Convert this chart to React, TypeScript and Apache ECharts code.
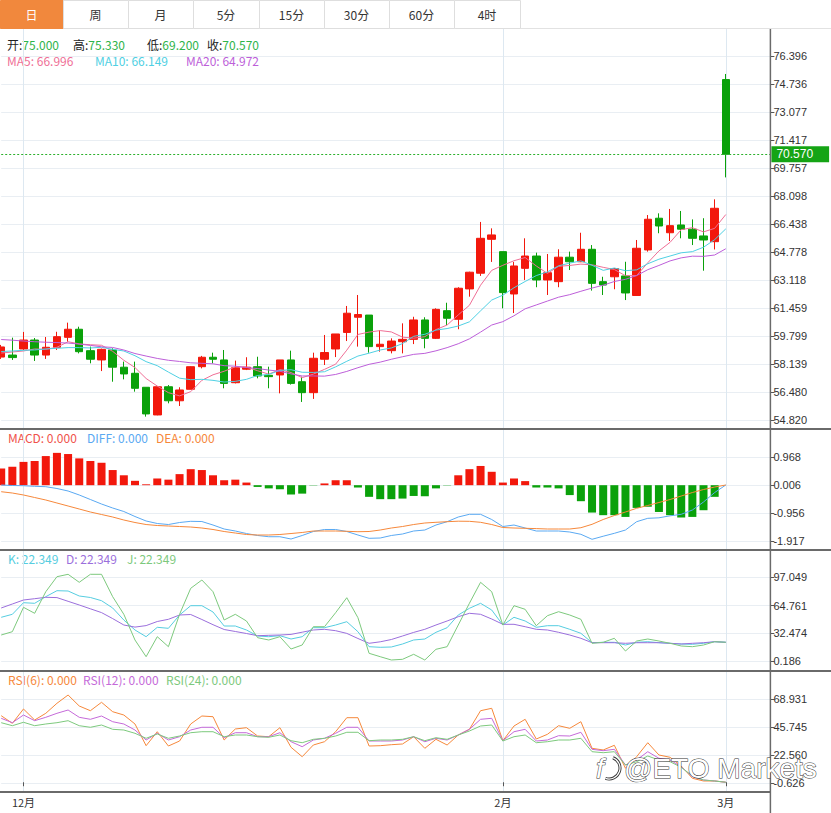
import React, { useEffect, useRef } from 'react';
import * as echarts from 'echarts';

// ---------- DATA ----------
const dates = [
  '2022-11-29','2022-11-30',
  '2022-12-01','2022-12-02','2022-12-05','2022-12-06','2022-12-07','2022-12-08','2022-12-09',
  '2022-12-12','2022-12-13','2022-12-14','2022-12-15','2022-12-16','2022-12-19','2022-12-20',
  '2022-12-21','2022-12-22','2022-12-23','2022-12-27','2022-12-28','2022-12-29','2022-12-30',
  '2023-01-02','2023-01-03','2023-01-04','2023-01-05','2023-01-06','2023-01-09','2023-01-10',
  '2023-01-11','2023-01-12','2023-01-13','2023-01-16','2023-01-17','2023-01-18','2023-01-19',
  '2023-01-20','2023-01-23','2023-01-24','2023-01-25','2023-01-26','2023-01-27','2023-01-30','2023-01-31',
  '2023-02-01','2023-02-02','2023-02-03','2023-02-06','2023-02-07','2023-02-08','2023-02-09',
  '2023-02-10','2023-02-13','2023-02-14','2023-02-15','2023-02-16','2023-02-17','2023-02-20',
  '2023-02-21','2023-02-22','2023-02-23','2023-02-24','2023-02-27','2023-02-28',
  '2023-03-01',
  '2023-03-02','2023-03-03','2023-03-06','2023-03-07',
];

const monthLabels: Record<string, string> = {
  '2022-12-01': '12月',
  '2023-02-01': '2月',
  '2023-03-01': '3月',
};

// [open, close, low, high]
const candles = [
  [58.55, 59.15, 58.44, 59.27], [58.67, 58.52, 58.38, 59.70], [59.03, 59.56, 58.97, 60.04],
  [59.56, 58.67, 58.32, 59.68], [58.67, 59.13, 58.44, 59.74], [59.13, 59.76, 58.97, 60.05],
  [59.72, 60.20, 59.46, 60.59], [60.20, 58.87, 58.77, 60.35], [58.93, 58.42, 58.18, 59.17],
  [58.38, 59.01, 57.72, 59.05], [58.97, 57.95, 57.09, 59.07], [57.95, 57.55, 57.23, 58.28],
  [57.59, 56.70, 56.50, 58.28], [56.76, 55.18, 55.02, 56.76], [55.12, 56.79, 55.10, 56.79],
  [56.79, 55.96, 55.81, 56.89], [55.96, 56.60, 55.65, 56.76], [56.64, 57.98, 56.64, 58.00],
  [57.98, 58.54, 57.88, 58.62], [58.54, 58.42, 58.18, 58.81], [58.38, 56.99, 56.70, 58.97],
  [57.03, 57.92, 56.99, 58.34], [57.83, 57.95, 57.78, 58.54], [57.98, 57.43, 57.29, 58.57],
  [57.47, 57.39, 56.70, 57.98], [57.49, 58.38, 56.40, 58.38], [58.38, 56.99, 56.92, 58.93],
  [57.09, 56.44, 55.89, 57.39], [56.44, 58.48, 56.07, 58.81], [58.42, 58.82, 58.08, 59.86],
  [59.03, 59.92, 58.55, 59.92], [60.01, 61.15, 59.50, 61.58], [60.91, 61.07, 59.17, 62.23],
  [61.04, 59.17, 58.81, 61.04], [59.17, 59.31, 58.87, 60.15], [58.93, 59.50, 58.77, 59.66],
  [59.46, 59.60, 58.77, 60.55], [59.60, 60.75, 59.32, 60.94], [60.75, 59.66, 59.07, 60.91],
  [59.66, 61.38, 59.62, 61.44], [61.30, 60.85, 60.45, 61.77], [60.79, 62.63, 60.20, 62.69],
  [62.59, 63.58, 62.13, 63.61], [63.52, 65.59, 63.36, 66.56], [65.53, 65.79, 64.19, 66.18],
  [64.80, 62.37, 61.44, 64.80], [62.29, 63.95, 61.16, 64.19], [63.81, 64.54, 63.12, 65.59],
  [64.54, 63.12, 62.69, 64.74], [63.12, 63.55, 62.23, 64.66], [63.02, 64.47, 62.69, 64.94],
  [64.47, 64.20, 63.71, 64.80], [64.20, 64.94, 64.18, 65.92], [64.94, 62.92, 62.49, 65.19],
  [63.02, 62.82, 62.23, 63.31], [63.31, 63.80, 62.57, 63.81], [63.36, 62.35, 61.93, 64.20],
  [62.20, 65.00, 62.17, 65.49], [64.90, 66.72, 64.80, 66.97], [66.78, 66.32, 65.89, 67.07],
  [65.92, 66.34, 65.43, 67.33], [66.38, 66.13, 65.59, 67.21], [66.13, 65.59, 65.19, 66.71],
  [65.73, 65.49, 63.67, 66.78], [65.39, 67.37, 64.93, 67.90], [75.00, 70.57, 69.20, 75.33],
];

const ma5 = [58.79, 58.85, 58.91, 59.03, 59.01, 59.13, 59.46, 59.33, 59.28, 59.25,
  58.89, 58.36, 57.93, 57.28, 56.83, 56.44, 56.25, 56.50, 57.17, 57.50,
  57.71, 57.97, 57.96, 57.74, 57.54, 57.81, 57.63, 57.33, 57.54, 57.82,
  58.13, 58.96, 59.89, 60.03, 60.12, 60.04, 59.73, 59.67, 59.76, 60.18,
  60.45, 61.05, 61.62, 62.81, 63.69, 63.99, 64.26, 64.45, 63.95, 63.51,
  63.93, 63.98, 64.06, 64.02, 63.87, 63.74, 63.37, 63.38, 64.14, 64.84,
  65.35, 66.10, 66.22, 65.97, 66.18, 67.00];
const ma10 = [58.88, 58.91, 58.95, 58.97, 59.03, 59.07, 59.11, 59.11, 59.09, 59.13,
  59.01, 58.91, 58.63, 58.28, 58.04, 57.66, 57.30, 57.21, 57.23, 57.17,
  57.07, 57.11, 57.23, 57.46, 57.52, 57.76, 57.80, 57.65, 57.64, 57.68,
  57.97, 58.30, 58.61, 58.78, 58.97, 59.09, 59.35, 59.78, 59.90, 60.15,
  60.24, 60.39, 60.64, 61.29, 61.93, 62.22, 62.66, 63.03, 63.38, 63.60,
  63.96, 64.12, 64.25, 63.99, 63.69, 63.83, 63.67, 63.72, 64.08, 64.35,
  64.54, 64.73, 64.80, 65.06, 65.51, 66.15];
const ma20 = [59.59, 59.55, 59.50, 59.46, 59.43, 59.41, 59.38, 59.32, 59.24, 59.16,
  59.12, 58.97, 58.76, 58.61, 58.47, 58.36, 58.29, 58.21, 58.18, 58.15,
  58.04, 58.01, 57.93, 57.87, 57.78, 57.71, 57.55, 57.43, 57.43, 57.42,
  57.52, 57.70, 57.92, 58.12, 58.25, 58.42, 58.57, 58.71, 58.77, 58.92,
  59.11, 59.34, 59.63, 60.03, 60.45, 60.65, 61.00, 61.41, 61.64, 61.87,
  62.10, 62.25, 62.45, 62.64, 62.81, 63.03, 63.16, 63.38, 63.73, 63.98,
  64.25, 64.43, 64.53, 64.52, 64.60, 64.97];

const macdHist = [0.57, 0.63, 0.80, 0.83, 1.00, 1.11, 1.07, 0.92, 0.83, 0.77,
  0.52, 0.34, 0.15, 0.03, 0.23, 0.19, 0.38, 0.55, 0.52, 0.34,
  0.17, 0.19, 0.09, -0.06, -0.11, -0.14, -0.32, -0.29, -0.01, 0.06,
  0.17, 0.17, -0.08, -0.40, -0.48, -0.48, -0.46, -0.37, -0.38, -0.11,
  -0.01, 0.34, 0.55, 0.66, 0.46, 0.09, 0.23, 0.14, -0.08, -0.08,
  -0.11, -0.34, -0.55, -0.94, -1.03, -1.03, -1.09, -0.78, -0.74, -0.92,
  -1.03, -1.11, -1.09, -0.86, -0.40, 0];
const diff = [0.006, -0.011, -0.018, -0.039, -0.052, -0.114, -0.200, -0.337, -0.492, -0.647,
  -0.784, -0.904, -1.076, -1.230, -1.316, -1.351, -1.282, -1.241, -1.248, -1.368,
  -1.505, -1.574, -1.660, -1.728, -1.770, -1.770, -1.849, -1.728, -1.591, -1.522,
  -1.522, -1.591, -1.711, -1.825, -1.814, -1.728, -1.677, -1.574, -1.540, -1.368,
  -1.254, -1.093, -1.000, -1.000, -1.179, -1.419, -1.368, -1.471, -1.574, -1.574,
  -1.574, -1.608, -1.687, -1.859, -1.753, -1.653, -1.540, -1.254, -1.138, -1.121,
  -1.052, -1.000, -0.853, -0.578, -0.252, 0.006];
const dea = [-0.224, -0.269, -0.337, -0.423, -0.509, -0.612, -0.715, -0.818, -0.921, -1.007,
  -1.093, -1.196, -1.282, -1.351, -1.385, -1.402, -1.419, -1.437, -1.471, -1.522,
  -1.591, -1.643, -1.694, -1.711, -1.711, -1.694, -1.660, -1.625, -1.574, -1.574,
  -1.574, -1.584, -1.598, -1.591, -1.540, -1.471, -1.419, -1.351, -1.299, -1.275,
  -1.254, -1.237, -1.241, -1.275, -1.351, -1.454, -1.471, -1.481, -1.491, -1.505,
  -1.505, -1.505, -1.461, -1.344, -1.179, -1.042, -0.921, -0.794, -0.698, -0.595,
  -0.492, -0.372, -0.252, -0.149, -0.063, 0.006];

const kLine = [51.15, 54.61, 67.99, 67.30, 74.91, 81.83, 81.48, 75.72, 73.99, 70.30,
  61.88, 48.04, 36.51, 28.78, 39.62, 38.47, 53.80, 64.53, 64.53, 57.26,
  41.12, 41.12, 36.51, 29.59, 28.78, 29.94, 26.13, 28.78, 39.16, 39.16,
  42.27, 46.08, 34.55, 17.25, 16.56, 16.91, 20.36, 24.98, 26.13, 33.86,
  39.16, 53.80, 61.53, 67.30, 59.57, 42.27, 51.15, 46.89, 39.62, 41.47,
  41.47, 37.32, 32.70, 21.86, 22.32, 22.32, 19.21, 22.32, 23.02, 21.86,
  21.17, 20.36, 20.02, 21.17, 23.02, 22.349];
const dLine = [61.88, 66.49, 71.10, 72.60, 74.22, 73.87, 69.60, 65.34, 60.95, 56.57,
  49.65, 42.27, 39.85, 41.58, 46.31, 48.85, 53.80, 54.38, 48.62, 42.62,
  37.08, 34.78, 32.47, 29.94, 30.40, 30.74, 31.43, 33.97, 36.51, 37.32,
  35.70, 32.59, 26.71, 21.17, 22.90, 25.55, 29.59, 33.74, 37.32, 42.27,
  46.89, 51.85, 55.76, 54.61, 49.19, 43.08, 43.08, 40.31, 37.32, 36.51,
  33.86, 30.74, 26.94, 21.86, 21.86, 21.86, 21.17, 21.86, 21.86, 21.86,
  21.17, 20.36, 21.17, 21.86, 23.02, 22.349];
const jLine = [30.74, 34.55, 62.68, 55.76, 80.67, 97.97, 100.74, 91.51, 100.74, 100.74,
  74.91, 54.61, 24.98, 5.72, 28.78, 17.25, 54.61, 84.59, 94.16, 80.67,
  48.04, 54.61, 46.89, 27.63, 24.98, 28.78, 14.60, 19.21, 40.31, 40.31,
  56.46, 73.75, 50.69, 9.64, 5.72, 1.92, 2.72, 8.49, 1.92, 14.25,
  17.25, 42.27, 67.30, 91.51, 80.67, 42.27, 64.53, 60.38, 41.47, 53.00,
  57.61, 53.80, 48.85, 21.17, 22.32, 26.94, 12.29, 23.82, 26.13, 23.82,
  21.17, 18.06, 17.25, 19.21, 23.02, 22.349];

const rsi6 = [55.10, 48.81, 60.65, 51.54, 57.09, 65.37, 72.24, 63.13, 59.24, 66.20,
  58.41, 55.68, 48.23, 30.26, 41.85, 30.01, 34.15, 48.23, 54.85, 54.28,
  34.98, 44.09, 45.17, 38.29, 37.71, 45.17, 28.94, 21.15, 30.84, 33.57,
  41.85, 53.45, 53.45, 30.01, 30.26, 31.09, 31.67, 37.71, 28.11, 35.56,
  30.84, 39.12, 43.84, 59.24, 61.23, 34.40, 46.57, 52.12, 35.81, 39.70,
  46.82, 44.67, 50.13, 28.11, 26.70, 30.59, 11.55, 21.15, 32.74, 22.56,
  20.66, 13.45, 3.27, 1.03, 1.03, 0];
const rsi12 = [52.95, 49.31, 55.68, 50.96, 53.78, 57.09, 59.82, 53.78, 52.12, 54.85,
  50.13, 48.23, 43.26, 34.98, 40.53, 34.98, 37.71, 43.26, 45.50, 45.50,
  36.88, 41.02, 41.02, 37.71, 37.71, 41.02, 33.57, 29.43, 34.98, 36.39,
  40.53, 45.50, 45.50, 34.15, 34.15, 34.15, 34.98, 37.71, 33.57, 36.39,
  34.98, 39.12, 43.84, 52.12, 52.95, 34.40, 41.85, 43.84, 34.15, 34.98,
  38.54, 38.29, 41.36, 27.28, 26.12, 27.28, 14.28, 18.42, 25.29, 19.83,
  18.42, 12.87, 4.59, 1.86, 1.03, 0];
const rsi24 = [49.31, 46.82, 49.64, 46.82, 48.23, 49.31, 50.96, 46.82, 45.50, 47.40,
  43.84, 43.26, 40.53, 36.39, 39.95, 36.39, 38.29, 41.02, 41.85, 41.85,
  37.71, 39.12, 39.12, 37.71, 37.22, 39.12, 34.40, 32.74, 35.56, 36.39,
  38.29, 41.36, 41.36, 34.40, 34.98, 34.98, 35.56, 37.71, 34.40, 36.88,
  35.56, 39.12, 42.43, 46.57, 47.40, 34.15, 37.71, 39.12, 32.74, 33.57,
  34.98, 34.98, 36.39, 25.29, 24.46, 25.29, 14.28, 17.01, 21.73, 18.42,
  17.01, 12.37, 5.17, 1.86, 1.03, 0];

const priceTicks = [54.820, 56.480, 58.139, 59.799, 61.459, 63.118, 64.778, 66.438, 68.098, 69.757, 71.417, 73.077, 74.736, 76.396];
const macdTicks = [-1.917, -0.956, 0.006, 0.968];
const kdjTicks = [0.186, 32.474, 64.761, 97.049];
const rsiTicks = [-0.626, 22.560, 45.745, 68.931];

const tabs = ['日', '周', '月', '5分', '15分', '30分', '60分', '4时'];

const maLegend = [['MA5', '66.996'], ['MA10', '66.149'], ['MA20', '64.972']];
const macdLegend = [['MACD', '0.000'], ['DIFF', '0.000'], ['DEA', '0.000']];
const kdjLegend = [['K', '22.349'], ['D', '22.349'], ['J', '22.349']];
const rsiLegend = [['RSI(6)', '0.000'], ['RSI(12)', '0.000'], ['RSI(24)', '0.000']];

// ---------- STYLE ----------
const RED = '#f2180c';
const GREEN = '#0aa10a';
const C_MA5 = '#ef6f96', C_MA10 = '#4fd0e3', C_MA20 = '#bd5fd9';
const C_DIFF = '#5aa9f2', C_DEA = '#f6883b';
const C_K = '#56cde0', C_D = '#9b6fdc', C_J = '#7dc97d';
const C_R6 = '#f6883b', C_R12 = '#c56ad9', C_R24 = '#7dc97d';
const CJK = '"Noto Sans CJK SC", "Noto Sans", sans-serif';
const NUM = '"Liberation Sans", Arial, sans-serif';

const GRID_LEFT = 1.2;
const GRID_RIGHT = 60.6;
const AXIS_X = 831 - GRID_RIGHT;
const grids = [
  { top: 29, height: 400 },
  { top: 429, height: 121 },
  { top: 550, height: 121 },
  { top: 671, height: 121 },
];
const yRanges = [
  [54.2865, 77.9964],
  [-2.2261, 1.9297],
  [-10.769, 128.76],
  [-8.079, 92.117],
];
const tickSets = [priceTicks, macdTicks, kdjTicks, rsiTicks];

const isMonth = (_i: number, v: string) => !!monthLabels[v];

function lineSeries(data: number[], color: string, grid: number) {
  return {
    type: 'line', xAxisIndex: grid, yAxisIndex: grid, data,
    symbol: 'none', showSymbol: false, smooth: false, silent: true,
    lineStyle: { width: 1, color }, itemStyle: { color },
  };
}

function legendText(x: number, y: number, text: string, color: string) {
  return {
    type: 'text', x, y, silent: true,
    style: { text, fill: color, font: `12px ${CJK}`, textVerticalAlign: 'middle', verticalAlign: 'middle' },
  };
}

function buildGraphics() {
  const g: any[] = [];
  // tab bar
  const edges = [0, 63, 128, 193, 259, 324, 389, 454, 520];
  g.push({ type: 'line', shape: { x1: 0, y1: 28.5, x2: 831, y2: 28.5 }, style: { stroke: '#e2e2e2', lineWidth: 1 } });
  tabs.forEach((t, k) => {
    g.push({
      type: 'rect',
      shape: { x: edges[k] + 0.5, y: 0.5, width: edges[k + 1] - edges[k], height: 28 },
      style: { fill: k === 0 ? '#f1883d' : '#ffffff', stroke: k === 0 ? '#f1883d' : '#dedede', lineWidth: 1 },
    });
    g.push({
      type: 'text', x: (edges[k] + edges[k + 1]) / 2, y: 14.5,
      style: {
        text: t, fill: k === 0 ? '#ffffff' : '#333333', font: `12px ${CJK}`,
        textAlign: 'center', align: 'center', textVerticalAlign: 'middle', verticalAlign: 'middle',
      },
    });
  });

  // OHLC legend
  const last = candles[candles.length - 1];
  const ohlc = [['开:', last[0]], ['高:', last[3]], ['低:', last[2]], ['收:', last[1]]] as [string, number][];
  const ohlcX = [7, 73, 147, 207];
  ohlc.forEach(([lab, v], k) => {
    g.push({
      type: 'text', x: ohlcX[k], y: 44,
      style: {
        text: `{l|${lab}}{v|${v.toFixed(3)}}`, font: `12px ${CJK}`,
        textVerticalAlign: 'middle', verticalAlign: 'middle',
        rich: { l: { fill: '#222', font: `12px ${CJK}` }, v: { fill: '#2fb44a', font: `12px ${CJK}` } },
      },
    });
  });
  const maX = [7, 95, 186];
  const maC = [C_MA5, C_MA10, C_MA20];
  maLegend.forEach(([n, v], k) => g.push(legendText(maX[k], 60, `${n}: ${v}`, maC[k])));

  const macdX = [8, 87, 156];
  const macdC = ['#f0524a', C_DIFF, C_DEA];
  macdLegend.forEach(([n, v], k) => g.push(legendText(macdX[k], 437, `${n}: ${v}`, macdC[k])));

  const kdjX = [8, 66, 127];
  const kdjC = [C_K, C_D, C_J];
  kdjLegend.forEach(([n, v], k) => g.push(legendText(kdjX[k], 558, `${n}: ${v}`, kdjC[k])));

  const rsiX = [8, 83, 166];
  const rsiC = [C_R6, C_R12, C_R24];
  rsiLegend.forEach(([n, v], k) => g.push(legendText(rsiX[k], 679, `${n}: ${v}`, rsiC[k])));

  // panel separators
  [429, 550, 671].forEach((y) => {
    g.push({ type: 'line', z: 50, shape: { x1: 0, y1: y, x2: 831, y2: y }, style: { stroke: '#6a6a6a', lineWidth: 2 } });
  });
  g.push({ type: 'line', z: 50, shape: { x1: 0, y1: 792, x2: AXIS_X, y2: 792 }, style: { stroke: '#6a6a6a', lineWidth: 2 } });
  g.push({ type: 'line', z: 50, shape: { x1: AXIS_X, y1: 29, x2: AXIS_X, y2: 813 }, style: { stroke: '#6a6a6a', lineWidth: 1.5 } });

  // watermark
  g.push({
    type: 'arc', z: 60, silent: true,
    shape: { cx: 609, cy: 768, r: 11, startAngle: -1.2, endAngle: 1.9 },
    style: { stroke: '#333', lineWidth: 3, fill: null },
  });
  g.push({
    type: 'arc', z: 61, silent: true,
    shape: { cx: 609, cy: 768, r: 11, startAngle: -1.2, endAngle: 1.9 },
    style: { stroke: '#fff', lineWidth: 1.2, fill: null },
  });
  g.push({
    type: 'text', x: 596, y: 768, z: 61, silent: true,
    style: {
      text: 'f', fill: '#ffffff', stroke: '#333333', lineWidth: 1,
      font: `italic 28px ${NUM}`, textVerticalAlign: 'middle', verticalAlign: 'middle',
    },
  });
  g.push({
    type: 'text', x: 624, y: 768, z: 61, silent: true,
    style: {
      text: '@ETO Markets', fill: '#ffffff', stroke: '#333333', lineWidth: 1,
      font: `28px ${NUM}`, textVerticalAlign: 'middle', verticalAlign: 'middle',
    },
  });
  return g;
}

function buildOption() {
  const lastClose = candles[candles.length - 1][1];
  return {
    animation: false,
    backgroundColor: '#ffffff',
    grid: grids.map((g) => ({ left: GRID_LEFT, right: GRID_RIGHT, top: g.top, height: g.height, containLabel: false })),
    xAxis: grids.map((_, k) => ({
      type: 'category', gridIndex: k, data: dates, boundaryGap: false,
      axisLine: { show: false },
      axisTick: { show: k === 3, interval: isMonth, length: 4, lineStyle: { color: '#555' } },
      axisLabel: {
        show: k === 3, interval: isMonth, formatter: (v: string) => monthLabels[v] || '',
        color: '#333', fontSize: 11, margin: 4, fontFamily: CJK,
      },
      splitLine: { show: true, interval: isMonth, lineStyle: { color: '#dde8f1', width: 1 } },
    })),
    yAxis: grids.map((_, k) => ({
      type: 'value', gridIndex: k, position: 'right',
      min: yRanges[k][0], max: yRanges[k][1],
      axisLine: { show: false },
      axisTick: { show: true, customValues: tickSets[k], length: 4, lineStyle: { color: '#555' } },
      axisLabel: {
        customValues: tickSets[k], formatter: (v: number) => v.toFixed(3),
        color: '#333', fontSize: 11, margin: 3, fontFamily: NUM,
      },
      splitLine: { show: true, lineStyle: { color: '#e9eef3', width: 1 } },
    })),
    series: [
      {
        type: 'candlestick', xAxisIndex: 0, yAxisIndex: 0, data: candles, barWidth: 8, clip: false,
        itemStyle: { color: RED, color0: GREEN, borderColor: RED, borderColor0: GREEN, borderWidth: 1 },
        markLine: {
          silent: true, symbol: ['none', 'none'], animation: false, z: 20,
          data: [{ yAxis: lastClose }],
          lineStyle: { color: '#2cb02c', type: [2, 2], width: 1 },
          label: {
            show: true, position: 'end', distance: 1,
            formatter: (p: any) => Number(p.value).toFixed(3),
            backgroundColor: '#15a415', color: '#ffffff', padding: [2, 16, 2, 5],
            fontSize: 12, fontFamily: NUM,
          },
        },
      },
      lineSeries(ma5, C_MA5, 0),
      lineSeries(ma10, C_MA10, 0),
      lineSeries(ma20, C_MA20, 0),
      {
        type: 'bar', xAxisIndex: 1, yAxisIndex: 1, data: macdHist, barWidth: 8, clip: false, silent: true,
        itemStyle: { color: (p: any) => (p.value >= 0 ? RED : GREEN) },
      },
      lineSeries(diff, C_DIFF, 1),
      lineSeries(dea, C_DEA, 1),
      lineSeries(kLine, C_K, 2),
      lineSeries(dLine, C_D, 2),
      lineSeries(jLine, C_J, 2),
      lineSeries(rsi6, C_R6, 3),
      lineSeries(rsi12, C_R12, 3),
      lineSeries(rsi24, C_R24, 3),
    ],
    graphic: { elements: buildGraphics() },
  };
}

export default function App() {
  const ref = useRef<HTMLDivElement>(null);
  useEffect(() => {
    document.body.style.margin = '0';
    const chart = echarts.init(ref.current as HTMLDivElement, null, { renderer: 'svg' });
    chart.setOption(buildOption() as any);
    return () => chart.dispose();
  }, []);
  return <div ref={ref} style={{ width: 831, height: 813 }} />;
}
